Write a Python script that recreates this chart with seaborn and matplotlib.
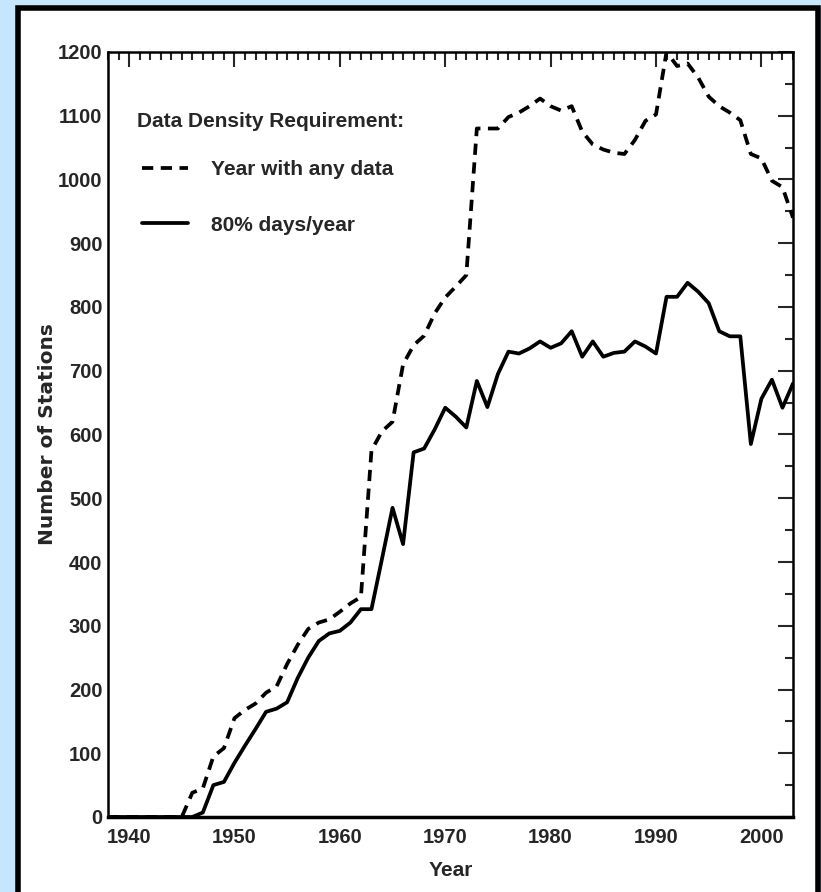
import numpy as np
import pandas as pd
import matplotlib
matplotlib.use("Agg")
import matplotlib.pyplot as plt
from matplotlib.patches import Rectangle
from matplotlib.ticker import MultipleLocator
import seaborn as sns

# region Datos
years = list(range(1938, 2004))

any_data = [0, 0, 0, 0, 0, 0, 0, 0,            # 1938-1945
            38, 45, 95, 108, 155, 168, 178, 195, 205, 240,   # 1946-1955
            270, 295, 305, 310, 322, 335, 345, 575, 605, 620,  # 1956-1965
            710, 740, 755, 790, 815, 832, 850, 1080, 1080, 1080,  # 1966-1975
            1098, 1105, 1115, 1127, 1115, 1108, 1115, 1075, 1055, 1047,  # 1976-1985
            1042, 1040, 1062, 1092, 1102, 1200, 1178, 1182, 1160, 1130,  # 1986-1995
            1115, 1105, 1093, 1040, 1033, 998, 988, 940]  # 1996-2003

days_80 = [0, 0, 0, 0, 0, 0, 0, 0, 0,          # 1938-1946
           7, 50, 55, 85, 112, 138, 165, 170, 180,   # 1947-1955
           218, 250, 276, 288, 292, 305, 326, 326, 405, 485,  # 1956-1965
           428, 572, 578, 608, 642, 628, 611, 684, 643, 695,  # 1966-1975
           730, 727, 735, 746, 736, 743, 762, 722, 746, 722,  # 1976-1985
           728, 730, 746, 738, 727, 816, 816, 838, 824, 806,  # 1986-1995
           762, 754, 754, 585, 656, 686, 642, 680]  # 1996-2003

labels = ["Year with any data", "80% days/year"]
titulo_leyenda = "Data Density Requirement:"
# endregion

# region DataFrame largo
df = pd.concat([
    pd.DataFrame({"Year": years, "Stations": any_data, "Requirement": labels[0]}),
    pd.DataFrame({"Year": years, "Stations": days_80, "Requirement": labels[1]}),
])
# endregion

# region Figura
sns.set_style("white")
plt.rcParams["font.family"] = ["Liberation Sans Narrow", "Liberation Sans", "DejaVu Sans"]
plt.rcParams["font.weight"] = "bold"

fig = plt.figure(figsize=(8.21, 8.92), dpi=100)
fig.patch.set_facecolor("#c6e6fd")
marco = Rectangle((17.5 / 821, -0.05), (818 - 17.5) / 821, 1.05 - 7.5 / 892,
                  transform=fig.transFigure, facecolor="white",
                  edgecolor="black", linewidth=4, zorder=-10)
fig.patches.append(marco)

ax = fig.add_axes([108 / 821, 1 - 817 / 892, (793 - 108) / 821, (817 - 52) / 892])
ax.set_zorder(5)
ax.set_facecolor("white")

sns.lineplot(data=df, x="Year", y="Stations", style="Requirement",
             style_order=labels, dashes={labels[0]: (3, 2), labels[1]: ""},
             color="black", linewidth=2.7, ax=ax)

ax.set_xlim(1938, 2003)
ax.set_ylim(0, 1200)
ax.xaxis.set_major_locator(MultipleLocator(10))
ax.xaxis.set_minor_locator(MultipleLocator(1))
ax.yaxis.set_major_locator(MultipleLocator(100))
ax.yaxis.set_minor_locator(MultipleLocator(50))
ax.tick_params(which="both", direction="in", top=True, right=True,
               width=1.5, labelsize=14.5)
ax.tick_params(axis="y", pad=4)
ax.tick_params(axis="x", pad=8)
ax.tick_params(which="major", length=11)
ax.tick_params(which="minor", length=6)
for sp in ax.spines.values():
    sp.set_linewidth(1.8)
    sp.set_color("black")
ax.spines["bottom"].set_linewidth(2.5)

ax.set_xlabel("Year", fontsize=15, fontweight="bold", labelpad=10)
ax.set_ylabel("Number of Stations", fontsize=14.5, fontweight="bold",
              family=["DejaVu Sans"])
ax.yaxis.set_label_coords(-0.074, 0.5)

# leyenda: titulo aparte para controlar separaciones
ax.text(0.042, 0.9085, titulo_leyenda, transform=ax.transAxes,
        fontsize=15, fontweight="bold", ha="left", va="center")
leg = ax.legend(loc="center left", bbox_to_anchor=(0.035, 0.810),
                frameon=False, fontsize=15, borderpad=0, handlelength=2.2,
                handletextpad=1.1, labelspacing=1.75)
for line in leg.get_lines():
    line.set_linewidth(2.7)

fig.savefig("out.png", dpi=100, facecolor=fig.get_facecolor())
# endregion
